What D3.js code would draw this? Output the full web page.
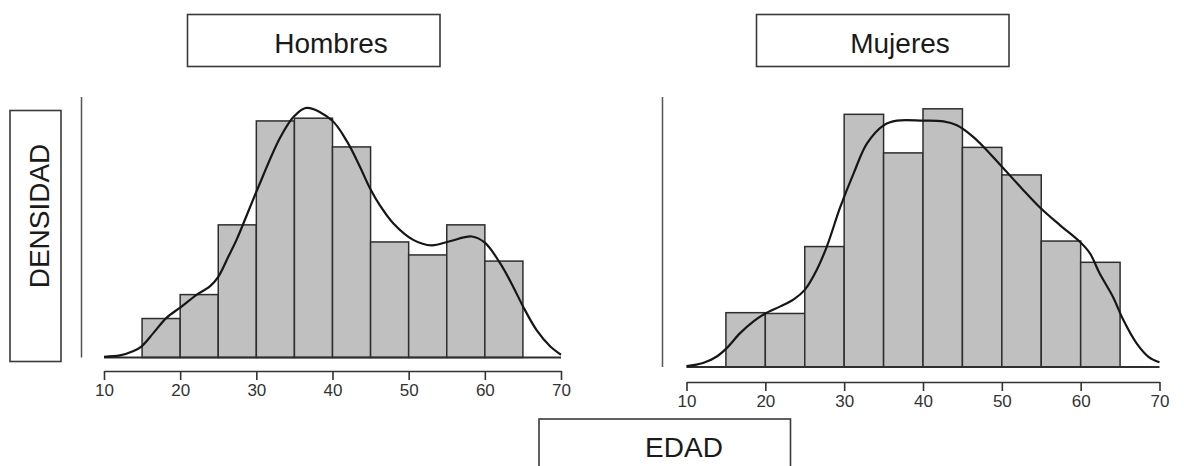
<!DOCTYPE html>
<html><head><meta charset="utf-8">
<script src="https://cdn.jsdelivr.net/npm/d3@7"></script>
<style>body{margin:0;background:#fff}svg{display:block}</style>
</head><body>
<script>
// ---- data ----
const binStarts = [15, 20, 25, 30, 35, 40, 45, 50, 55, 60];
const binWidth = 5;
const xTicks = [10, 20, 30, 40, 50, 60, 70];
const panelTitles = ["Hombres", "Mujeres"];
const yLabel = "DENSIDAD";
const xLabel = "EDAD";

const hombresDensity = [0.0057, 0.0092, 0.0194, 0.0346, 0.0350, 0.0308, 0.0169, 0.0150, 0.0194, 0.0141];
const mujeresDensity = [0.0069, 0.0068, 0.0153, 0.0321, 0.0272, 0.0328, 0.0279, 0.0244, 0.0160, 0.0133];

const hombresKdeX = [10, 12.1, 13.8, 14.9, 16.5, 18.2, 20, 22.2, 23.9, 25, 26.3, 27.4, 30.1, 33.1, 34.9, 36.6, 39.9, 41.9, 43.6, 44.9, 46.2, 48, 50.6, 53, 55.4, 58.3, 60, 62, 63.7, 65, 66.8, 68.6, 70];
const hombresKdeY = [0.0001, 0.0003, 0.0009, 0.0016, 0.0036, 0.0058, 0.0073, 0.0092, 0.0104, 0.0118, 0.0147, 0.0172, 0.0245, 0.0321, 0.0352, 0.0365, 0.0347, 0.0316, 0.0279, 0.0248, 0.0223, 0.0196, 0.0172, 0.0164, 0.0170, 0.0177, 0.0168, 0.0138, 0.0104, 0.0075, 0.0040, 0.0016, 0.0004];

const mujeresKdeX = [10, 12.1, 13.8, 15.1, 16.8, 18.5, 20, 21.9, 23.6, 25, 26.5, 27.8, 29.5, 31.2, 32.9, 35, 36.7, 40, 42.6, 44.3, 46.4, 48.5, 50.6, 52.7, 54.8, 57.4, 59.9, 61.2, 62.4, 64.1, 65.4, 67.1, 68.6, 70];
const mujeresKdeY = [0.0001, 0.0005, 0.0013, 0.0024, 0.0043, 0.0058, 0.0068, 0.0077, 0.0086, 0.0098, 0.0123, 0.0153, 0.0203, 0.0246, 0.0284, 0.0307, 0.0313, 0.0313, 0.0312, 0.0307, 0.0292, 0.0271, 0.0248, 0.0225, 0.0203, 0.0180, 0.0159, 0.0144, 0.0119, 0.0089, 0.0060, 0.0030, 0.0013, 0.0006];

const yMaxH = 0.0381, yMaxM = 0.0343;

// ---- layout ----
const W = 1184, H = 466;
const FONT = "'Liberation Sans', Arial, sans-serif";
const svg = d3.select("body").append("svg").attr("width", W).attr("height", H);

const panels = [
  {title: panelTitles[0], dens: hombresDensity, kx: hombresKdeX, ky: hombresKdeY, ymax: yMaxH,
   x0: 104, x1: 561, base: 357.5, top: 97, vline: 81.5, axisY: 371,
   box: [187.5, 14.5, 252.5, 52], tx: 331, ty: 52.5},
  {title: panelTitles[1], dens: mujeresDensity, kx: mujeresKdeX, ky: mujeresKdeY, ymax: yMaxM,
   x0: 686.5, x1: 1159.5, base: 367, top: 97, vline: 662.5, axisY: 382,
   box: [756.5, 14.5, 252.5, 52], tx: 900, ty: 52.5}
];

panels.forEach(p => {
  const x = d3.scaleLinear().domain([10, 70]).range([p.x0, p.x1]);
  const y = d3.scaleLinear().domain([0, p.ymax]).range([p.base, p.top]);
  const g = svg.append("g");

  // title box
  g.append("rect").attr("x", p.box[0]).attr("y", p.box[1]).attr("width", p.box[2]).attr("height", p.box[3])
    .attr("fill", "#fff").attr("stroke", "#3a3a3a").attr("stroke-width", 1.6);
  g.append("text").attr("x", p.tx).attr("y", p.ty).attr("text-anchor", "middle")
    .attr("font-family", FONT).attr("font-size", 28).attr("fill", "#1a1a1a").text(p.title);

  // left vertical line (y axis without ticks)
  g.append("line").attr("x1", p.vline).attr("x2", p.vline).attr("y1", y.range()[1]).attr("y2", y.range()[0])
    .attr("stroke", "#555").attr("stroke-width", 1.5);

  // bars
  g.selectAll("rect.bar").data(binStarts.map((b, i) => ({b, d: p.dens[i]}))).join("rect")
    .attr("class", "bar")
    .attr("x", d => x(d.b)).attr("width", d => x(d.b + binWidth) - x(d.b))
    .attr("y", d => y(d.d)).attr("height", d => y(0) - y(d.d))
    .attr("fill", "#c0c0c0").attr("stroke", "#2e2e2e").attr("stroke-width", 1.5);

  // baseline
  g.append("line").attr("x1", x(10)).attr("x2", x(70)).attr("y1", y(0)).attr("y2", y(0))
    .attr("stroke", "#2e2e2e").attr("stroke-width", 1.8);

  // density curve
  const pts = p.kx.map((v, i) => [v, p.ky[i]]);
  g.append("path").datum(pts)
    .attr("d", d3.line().x(d => x(d[0])).y(d => y(d[1])).curve(d3.curveCatmullRom.alpha(0.5)))
    .attr("fill", "none").attr("stroke", "#161616").attr("stroke-width", 2.2);

  // x axis
  const ax = g.append("g").attr("transform", `translate(0,${p.axisY})`)
    .call(d3.axisBottom(x).tickValues(xTicks).tickSize(9).tickSizeOuter(0).tickPadding(4));
  ax.select(".domain").attr("stroke", "#333").attr("stroke-width", 1.6);
  ax.selectAll(".tick line").attr("stroke", "#333").attr("stroke-width", 1.6);
  ax.selectAll(".tick text").attr("font-family", FONT).attr("font-size", 17).attr("fill", "#333");
});

// y label box
svg.append("rect").attr("x", 10).attr("y", 110.5).attr("width", 51).attr("height", 251)
  .attr("fill", "#fff").attr("stroke", "#3a3a3a").attr("stroke-width", 1.6);
svg.append("text").attr("transform", "translate(48.5,216) rotate(-90)").attr("text-anchor", "middle")
  .attr("font-family", FONT).attr("font-size", 28).attr("fill", "#1a1a1a").text(yLabel);

// x label box
svg.append("rect").attr("x", 539).attr("y", 419).attr("width", 251.5).attr("height", 80)
  .attr("fill", "#fff").attr("stroke", "#3a3a3a").attr("stroke-width", 1.6);
svg.append("text").attr("x", 684).attr("y", 456.5).attr("text-anchor", "middle")
  .attr("font-family", FONT).attr("font-size", 28).attr("fill", "#1a1a1a").text(xLabel);
</script>
</body></html>
